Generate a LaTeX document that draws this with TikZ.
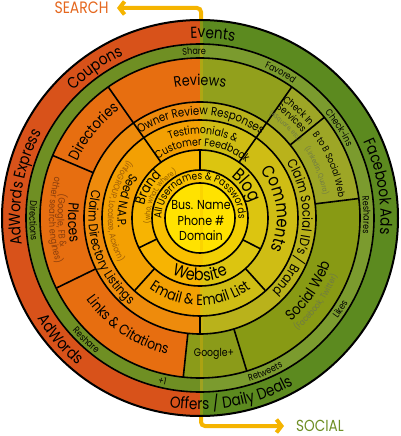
\documentclass[tikz,border=0pt]{standalone}
\usepackage{fontspec}
\setmainfont[FakeStretch=0.85]{Poppins}
\usetikzlibrary{decorations.text,arrows.meta}

\definecolor{cOuterL}{HTML}{D8521A}
\definecolor{cOuterR}{HTML}{5C8A1F}
\definecolor{cGreenL}{HTML}{6F8F23}
\definecolor{cGreenR}{HTML}{7B9B2E}
\definecolor{cOrange}{HTML}{E76E10}
\definecolor{cReviewR}{HTML}{92A01C}
\definecolor{cGoogle}{HTML}{8B9B19}
\definecolor{cSocial}{HTML}{889A14}
\definecolor{cCheck}{HTML}{9DA626}
\definecolor{cClaimL}{HTML}{EE8B0C}
\definecolor{cClaimR}{HTML}{B9B21B}
\definecolor{cTL}{HTML}{F3A003}
\definecolor{cTR}{HTML}{CFBD14}
\definecolor{cBL}{HTML}{F7B402}
\definecolor{cBR}{HTML}{DCC510}
\definecolor{cUL}{HTML}{F9C000}
\definecolor{cUR}{HTML}{F1CF04}
\definecolor{cCenter}{HTML}{FFE200}
\definecolor{arrowyellow}{HTML}{F5B400}
\definecolor{searchcol}{HTML}{E5671E}
\definecolor{socialcol}{HTML}{6F8F25}
\definecolor{subOrange}{HTML}{8A3D0C}
\definecolor{subYellow}{HTML}{9A5A08}
\definecolor{subBrand}{HTML}{8E5A00}
\definecolor{subGreen}{HTML}{6F7A45}

% radius, center angle, half span (+ clockwise, - counterclockwise), size, color, text
\newcommand\arclabel[6]{%
  \path[decorate,decoration={text along path,text align=center,text color=#5,
    text={|\fontsize{#4}{#4}\selectfont|#6}}]
    ({#2+#3}:#1) arc[start angle={#2+#3},delta angle={-2*(#3)},radius=#1];}
% inner r, outer r, start, end, colour
\newcommand\ringseg[5]{%
  \fill[#5] (#3:#2) arc[start angle=#3,end angle=#4,radius=#2]
    -- (#4:#1) arc[start angle=#4,end angle=#3,radius=#1] -- cycle;}
\newcommand\radline[3]{\draw[segline] (#3:#1) -- (#3:#2);}

\begin{document}
\begin{tikzpicture}[x=1pt,y=1pt,
  segline/.style={draw=black,line width=1.6pt},
  arrowline/.style={draw=arrowyellow,line width=4pt}]
\fill[white] (-200,-218) rectangle (201,218);
\useasboundingbox (-200,-218) rectangle (201,218);

% arrows
\draw[arrowline,rounded corners=4pt,-{Straight Barb[length=5pt,width=13pt]}]
  (1,195) -- (1,210) -- (-83,210);
\draw[arrowline,rounded corners=4pt,-{Straight Barb[length=5pt,width=13pt]}]
  (1,-195) -- (1,-208) -- (84,-208);
\node[inner sep=0pt,text=searchcol,font=\fontsize{16.5}{16.5}\selectfont] (search) at (-118.5,210) {SEARCH};
\node[inner sep=0pt,text=socialcol,font=\fontsize{16}{16}\selectfont] (social) at (120,-207.5) {SOCIAL};

% fills
\ringseg{174}{198}{90}{270}{cOuterL}
\ringseg{174}{198}{-90}{90}{cOuterR}
\ringseg{160}{174}{90}{270}{cGreenL}
\ringseg{160}{174}{-90}{90}{cGreenR}
\ringseg{116}{160}{90}{264}{cOrange}
\ringseg{116}{160}{55}{90}{cReviewR}
\ringseg{116}{160}{264}{287}{cGoogle}
\ringseg{116}{160}{287}{367}{cSocial}
\ringseg{116}{160}{7}{55}{cCheck}
\ringseg{98}{116}{90}{270}{cClaimL}
\ringseg{98}{116}{-90}{90}{cClaimR}
\ringseg{68}{98}{90}{270}{cTL}
\ringseg{68}{98}{-90}{90}{cTR}
\ringseg{48}{68}{90}{270}{cBL}
\ringseg{48}{68}{-90}{90}{cBR}
\ringseg{35}{48}{90}{270}{cUL}
\ringseg{35}{48}{-90}{90}{cUR}
\fill[cCenter] (0,0) circle[radius=35];

\draw[draw=arrowyellow,opacity=0.3,line width=3pt] (1.5,-197) -- (1.5,197);

% circles
\foreach \r in {35,48,68,98,116,160,174} \draw[segline] (0,0) circle[radius=\r];
\draw[line width=2pt] (0,0) circle[radius=198];

% radial lines
\radline{116}{160}{157}
\radline{116}{160}{206}
\radline{116}{160}{264}
\radline{116}{160}{287}
\radline{116}{160}{7}
\radline{116}{160}{39}
\radline{68}{160}{125}
\radline{68}{160}{55}
\radline{98}{116}{270}
\radline{68}{98}{228}
\radline{68}{98}{312}
\radline{48}{68}{90}
\radline{48}{68}{206}
\radline{48}{68}{333}

% outer band
\arclabel{180}{86}{50}{16}{black}{Events}
\arclabel{180}{125}{50}{16}{black}{Coupons}
\arclabel{180}{170}{50}{16}{black}{AdWords Express}
\arclabel{191.5}{221}{-50}{16}{black}{AdWords}
\arclabel{191.5}{280}{-50}{16}{black}{Offers / Daily Deals}
\arclabel{180.5}{10}{50}{16}{black}{Facebook Ads}

% green band
\arclabel{163.5}{92}{40}{9.5}{black}{Share}
\arclabel{163.5}{61}{40}{9.5}{black}{Favored}
\arclabel{163.5}{33}{40}{9.5}{black}{Check-ins}
\arclabel{163.5}{1}{40}{9.5}{black}{Reshares}
\arclabel{170.5}{327}{-40}{9.5}{black}{Likes}
\arclabel{170.5}{293}{-40}{9.5}{black}{Retweets}
\arclabel{170.5}{257}{-40}{9.5}{black}{+1}
\arclabel{170.5}{227}{-40}{9.5}{black}{Reshare}
\arclabel{170.5}{181}{-40}{9.5}{black}{Directions}

% ring of search / social channels
\arclabel{132.5}{90}{50}{15}{black}{Reviews}
\arclabel{135}{141}{50}{15}{black}{Directories}
\arclabel{132}{182}{-50}{14.5}{black}{Places}
\arclabel{142.5}{181}{-50}{9.5}{subOrange}{(Google, FB {\&}}
\arclabel{151}{181}{-50}{9.5}{subOrange}{other search engines)}
\arclabel{140}{236}{-50}{14.5}{black}{Links {\&} Citations}
\arclabel{138}{326}{-50}{15}{black}{Social Web}
\arclabel{149}{324}{-50}{8.5}{subGreen}{(Facebook, Twitter)}
\arclabel{143}{47.5}{30}{10}{black}{Check In}
\arclabel{133}{47.5}{30}{10}{black}{Services}
\arclabel{124.5}{47}{30}{6.5}{subGreen}{(4Square, etc.)}
\arclabel{140}{22.5}{40}{9.5}{black}{B to B Social Web}
\arclabel{125.5}{22}{40}{7}{subGreen}{(Linkedin, Quora)}
\node[inner sep=0pt,font=\fontsize{11}{11}\selectfont] (google) at (14,-136) {Google+};

% claim ring
\arclabel{103}{89.5}{60}{12}{black}{Owner Review Responses}
\arclabel{111.5}{198}{-60}{13}{black}{Claim Directory Listings}
\arclabel{102.5}{-6.5}{60}{13.5}{black}{Claim Social ID's / Brand}

% ring 4
\arclabel{84}{88}{60}{11}{black}{Testimonials {\&}}
\arclabel{72}{88}{60}{11}{black}{Customer Feedback}
\arclabel{82.5}{167}{-60}{12.5}{black}{Seed N.A.P.}
\arclabel{92}{175}{-60}{8.5}{subYellow}{(infoGROUP, Localeze, Acxiom)}
\arclabel{77}{7}{60}{17.5}{black}{Comments}
\arclabel{87}{270}{-60}{15}{black}{Email {\&} Email List}

% ring 5
\arclabel{57}{150}{70}{14}{black}{Brand}
\arclabel{50}{152}{70}{7.5}{subBrand}{(who, what, where)}
\arclabel{52}{35}{70}{18}{black}{Blog}
\arclabel{63}{270}{-70}{17}{black}{Website}

% ring 6
\arclabel{38.5}{90}{130}{10.5}{black}{All Usernames {\&} Passwords}

% centre
\node[inner sep=0pt,align=center,font=\fontsize{13}{15.5}\selectfont] (core) at (1,-3) {Bus. Name\\Phone \#\\Domain};
\end{tikzpicture}
\end{document}
